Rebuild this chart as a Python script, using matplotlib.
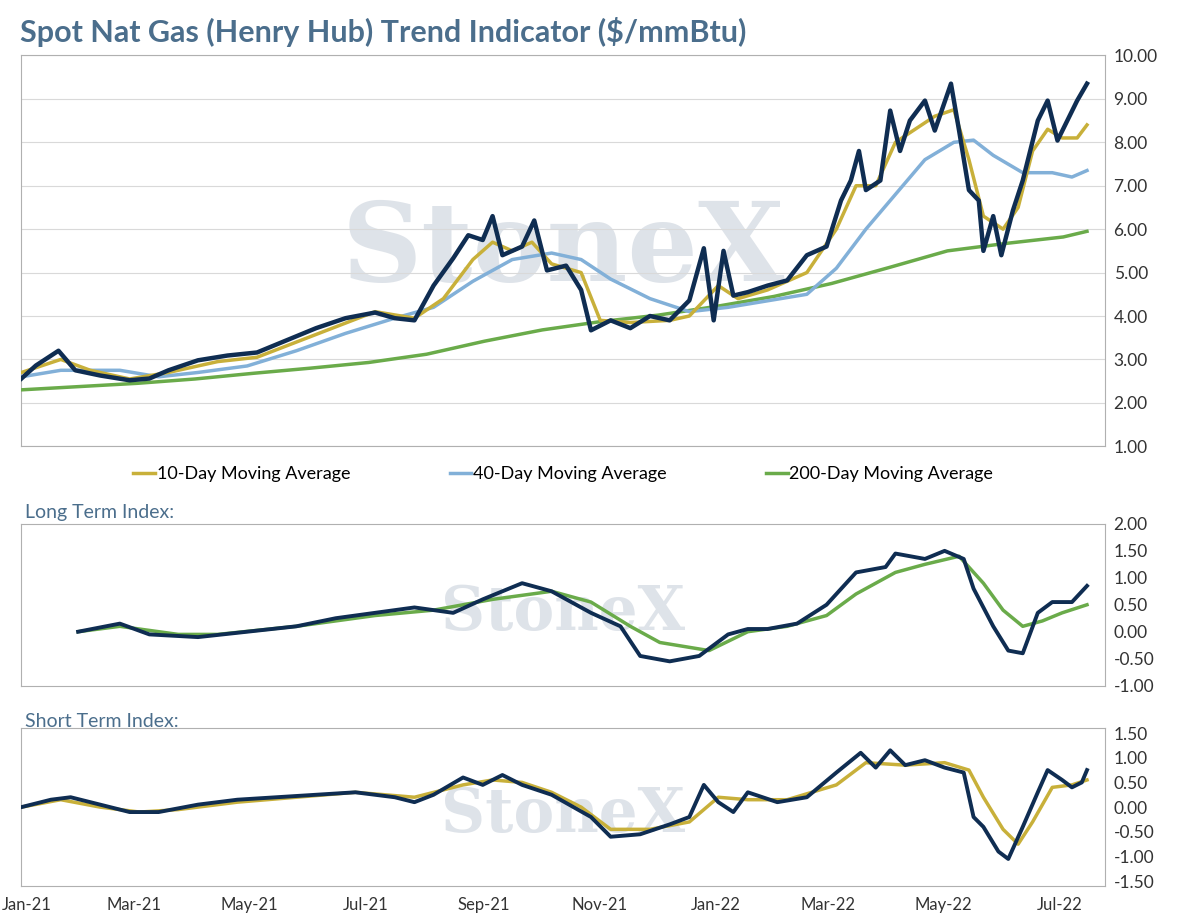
import numpy as np
import pandas as pd
import matplotlib
matplotlib.use("Agg")
import matplotlib.pyplot as plt
import matplotlib.dates as mdates
import matplotlib.transforms as mtransforms

plt.rcParams['font.family'] = ['Lato', 'DejaVu Sans']

# months since 2021-01-01, value
spot_t = [0, .25, .64, .93, 1.36, 1.87, 2.21, 2.54, 3.05, 3.56, 4.07, 4.58, 5.09, 5.6, 6.11, 6.45, 6.79,
          7.12, 7.46, 7.72, 7.97, 8.14, 8.31, 8.65, 8.86, 9.08, 9.41, 9.67, 9.84, 10.18, 10.52, 10.86,
          11.2, 11.54, 11.79, 11.96, 12.13, 12.3, 12.55, 12.89, 13.23, 13.57, 13.91, 14.16, 14.33, 14.47,
          14.59, 14.84, 15.01, 15.18, 15.35, 15.61, 15.78, 16.06, 16.2, 16.37, 16.54, 16.62, 16.79, 16.93,
          17.13, 17.3, 17.56, 17.73, 17.9, 18.07, 18.24, 18.41]
spot_v = [2.56, 2.86, 3.2, 2.75, 2.63, 2.52, 2.56, 2.75, 2.98, 3.09, 3.16, 3.44, 3.72, 3.95, 4.08, 3.95, 3.9,
          4.7, 5.33, 5.86, 5.75, 6.3, 5.4, 5.6, 6.2, 5.05, 5.16, 4.6, 3.67, 3.9, 3.72, 4.0,
          3.9, 4.36, 5.56, 3.9, 5.5, 4.47, 4.55, 4.7, 4.82, 5.4, 5.6, 6.66, 7.12, 7.8,
          6.9, 7.12, 8.73, 7.8, 8.5, 8.96, 8.27, 9.35, 8.27, 6.9, 6.66, 5.5, 6.3, 5.4,
          6.43, 7.12, 8.5, 8.96, 8.04, 8.5, 8.96, 9.35]

ma10_t = [0, .68, 1.19, 1.87, 2.54, 3.39, 4.07, 4.75, 5.43, 6.11, 6.79, 7.29, 7.8, 8.14, 8.48, 8.82, 9.16,
          9.67, 10.0, 10.52, 11.2, 11.54, 12.04, 12.38, 12.89, 13.57, 14.08, 14.42, 14.76, 15.1, 15.44,
          15.78, 16.11, 16.37, 16.62, 16.96, 17.22, 17.47, 17.73, 17.98, 18.24, 18.41]
ma10_v = [2.7, 3.0, 2.75, 2.55, 2.7, 2.95, 3.05, 3.4, 3.75, 4.1, 3.95, 4.4, 5.3, 5.7, 5.5, 5.7, 5.2,
          5.0, 3.9, 3.85, 3.9, 4.0, 4.7, 4.4, 4.6, 5.0, 6.0, 7.0, 7.0, 8.0, 8.3,
          8.6, 8.75, 7.6, 6.3, 6.0, 6.5, 7.8, 8.3, 8.1, 8.1, 8.4]

ma40_t = [0, .68, 1.7, 2.37, 3.05, 3.9, 4.75, 5.6, 6.45, 7.12, 7.8, 8.48, 9.16, 9.67, 10.18, 10.86, 11.54,
          12.21, 12.89, 13.57, 14.08, 14.59, 15.1, 15.61, 16.11, 16.45, 16.79, 17.3, 17.81, 18.15, 18.41]
ma40_v = [2.6, 2.75, 2.75, 2.6, 2.7, 2.85, 3.2, 3.6, 3.95, 4.2, 4.8, 5.3, 5.45, 5.3, 4.85, 4.4, 4.1,
          4.2, 4.35, 4.5, 5.1, 6.0, 6.8, 7.6, 8.0, 8.05, 7.7, 7.3, 7.3, 7.2, 7.35]

ma200_t = [0, 2.0, 3.0, 4.0, 5.0, 6.0, 7.0, 8.0, 9.0, 10.0, 11.0, 12.0, 13.0, 14.0, 15.0, 16.0, 17.0, 18.0, 18.41]
ma200_v = [2.3, 2.45, 2.55, 2.68, 2.8, 2.93, 3.12, 3.42, 3.68, 3.87, 4.02, 4.22, 4.45, 4.75, 5.12, 5.5, 5.67, 5.82, 5.95]

lt_t = [.98, 1.7, 2.21, 3.05, 3.9, 4.75, 5.43, 6.11, 6.79, 7.46, 7.97, 8.65, 9.16, 9.84, 10.35, 10.69,
        11.2, 11.71, 12.21, 12.55, 12.89, 13.4, 13.91, 14.42, 14.93, 15.1, 15.61, 15.95, 16.28, 16.45,
        16.79, 17.05, 17.3, 17.56, 17.81, 18.15, 18.41]
lt_v = [0, .15, -.05, -.1, 0, .1, .25, .35, .45, .35, .6, .9, .75, .35, .1, -.45,
        -.55, -.45, -.05, .05, .05, .15, .5, 1.1, 1.2, 1.45, 1.35, 1.5, 1.35, .8,
        .1, -.35, -.4, .35, .55, .55, .85]
lt_ma_t = [.98, 1.7, 2.71, 3.39, 4.75, 6.11, 7.12, 8.14, 9.16, 9.84, 10.52, 11.03, 11.88, 12.55, 13.23,
           13.91, 14.42, 15.1, 15.61, 16.2, 16.62, 16.96, 17.3, 17.64, 17.98, 18.41]
lt_ma_v = [0, .1, -.05, -.05, .1, .3, .4, .6, .75, .55, .1, -.2, -.35, 0, .1,
           .3, .7, 1.1, 1.25, 1.4, .9, .4, .1, .2, .35, .5]

st_t = [0, .51, .85, 1.36, 1.87, 2.37, 3.05, 3.73, 4.41, 5.09, 5.77, 6.45, 6.79, 7.12, 7.63, 7.97, 8.31,
        8.65, 9.16, 9.84, 10.18, 10.69, 11.2, 11.54, 11.79, 12.04, 12.3, 12.55, 13.06, 13.57, 14.08,
        14.5, 14.76, 15.01, 15.27, 15.61, 15.95, 16.28, 16.45, 16.62, 16.88, 17.05, 17.3, 17.56, 17.73,
        17.98, 18.15, 18.32, 18.41]
st_v = [0, .15, .2, .05, -.1, -.1, .05, .15, .2, .25, .3, .2, .1, .25, .6, .45, .65,
        .45, .25, -.2, -.6, -.55, -.35, -.2, .45, .1, -.1, .3, .1, .2, .7,
        1.1, .8, 1.15, .85, .95, .8, .7, -.2, -.4, -.9, -1.05, -.4, .3, .75,
        .55, .4, .5, .75]
st_ma_t = [0, .68, 1.36, 2.04, 2.71, 3.73, 4.75, 5.77, 6.79, 7.63, 8.14, 8.65, 9.16, 9.67, 10.18, 10.86,
           11.54, 12.04, 12.55, 13.23, 14.08, 14.59, 15.27, 15.95, 16.37, 16.62, 16.96, 17.22, 17.47,
           17.81, 18.15, 18.41]
st_ma_v = [0, .15, 0, -.1, -.05, .1, .2, .3, .2, .45, .55, .5, .3, 0, -.45, -.45,
           -.3, .2, .15, .15, .45, .9, .85, .9, .75, .2, -.45, -.75, -.3, .4, .45, .55]

start = pd.Timestamp("2021-01-01")
def to_dates(t):
    return [start + pd.Timedelta(days=m * 30.44) for m in t]

NAVY = "#0f2d52"
GOLD = "#c8b03a"
BLUE = "#82b0d8"
GREEN = "#6aab4a"
TXT = "#4b6e8c"

fig = plt.figure(figsize=(11.91, 9.24), dpi=100)
ax1 = fig.add_axes([0.018, 0.517, 0.910, 0.423])
ax2 = fig.add_axes([0.018, 0.258, 0.910, 0.175], sharex=ax1)
ax3 = fig.add_axes([0.018, 0.041, 0.910, 0.171], sharex=ax1)

fig.text(0.017, 0.965, "Spot Nat Gas (Henry Hub) Trend Indicator ($/mmBtu)", fontsize=22,
         fontweight="bold", color=TXT, va="center")
fig.text(0.021, 0.445, "Long Term Index:", fontsize=14, color=TXT, va="center")
fig.text(0.021, 0.219, "Short Term Index:", fontsize=14, color=TXT, va="center")

for ax in (ax1, ax2, ax3):
    ax.text(0.5, 0.5 if ax is ax1 else 0.45, "StoneX", transform=ax.transAxes, fontsize=80 if ax is ax1 else 44,
            fontfamily="DejaVu Serif", fontweight="bold", color="#c9d1db", alpha=0.6,
            ha="center", va="center", zorder=0)
    ax.yaxis.tick_right()
    ax.tick_params(axis="y", length=0, labelsize=12.5, colors="#333333", pad=6)
    ax.tick_params(axis="x", length=0, labelsize=12, colors="#333333", pad=8)
    for s in ax.spines.values():
        s.set_color("#b0b0b0")
        s.set_linewidth(0.8)
    ax.yaxis.set_major_formatter(matplotlib.ticker.FormatStrFormatter("%.2f"))

ax1.plot(to_dates(ma200_t), ma200_v, color=GREEN, lw=2.5, label="200-Day Moving Average", zorder=3)
ax1.plot(to_dates(ma40_t), ma40_v, color=BLUE, lw=2.5, label="40-Day Moving Average", zorder=3)
ax1.plot(to_dates(ma10_t), ma10_v, color=GOLD, lw=2.5, label="10-Day Moving Average", zorder=4)
ax1.plot(to_dates(spot_t), spot_v, color=NAVY, lw=3.2, zorder=5)
ax1.set_ylim(1, 10)
ax1.set_yticks(np.arange(1, 10.01, 1))
ax1.grid(axis="y", color="#d9d9d9", lw=0.8)
h, l = ax1.get_legend_handles_labels()
ax1.legend(h[::-1], l[::-1], loc="upper center", bbox_to_anchor=(0.5, -0.01), ncol=3, frameon=False,
           fontsize=13, handlelength=1.2, columnspacing=5.5, handletextpad=0.1)
plt.setp(ax1.get_xticklabels(), visible=False)

ax2.plot(to_dates(lt_ma_t), lt_ma_v, color=GREEN, lw=2.5, zorder=3)
ax2.plot(to_dates(lt_t), lt_v, color=NAVY, lw=2.8, zorder=4)
ax2.set_ylim(-1, 2)
ax2.set_yticks(np.arange(-1, 2.01, 0.5))
plt.setp(ax2.get_xticklabels(), visible=False)

ax3.plot(to_dates(st_ma_t), st_ma_v, color=GOLD, lw=2.5, zorder=3)
ax3.plot(to_dates(st_t), st_v, color=NAVY, lw=2.8, zorder=4)
ax3.set_ylim(-1.6, 1.6)
ax3.set_yticks(np.arange(-1.5, 1.51, 0.5))

ax3.set_xlim(pd.Timestamp("2021-01-01"), pd.Timestamp("2022-07-25"))
ax3.xaxis.set_major_locator(mdates.MonthLocator(bymonth=[1, 3, 5, 7, 9, 11]))
ax3.xaxis.set_major_formatter(mdates.DateFormatter("%b-%y"))

# keep the first month label inside the canvas
fig.canvas.draw()
first = ax3.get_xticklabels()[0]
first.set_transform(first.get_transform() + mtransforms.ScaledTranslation(4 / 72, 0, fig.dpi_scale_trans))

fig.savefig("out.png", dpi=100)
